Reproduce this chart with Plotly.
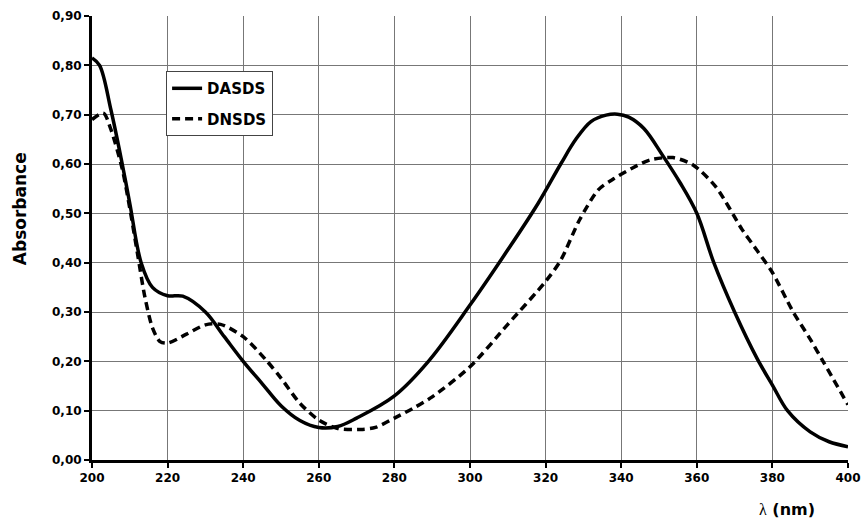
import plotly.graph_objects as go

wl_dasds = [200, 202, 205, 208, 210, 213, 216, 220, 224, 230, 235, 240, 245, 250, 255, 260, 265, 270, 280, 289, 300, 310, 318, 324, 328, 332, 336, 339, 342, 346, 351, 355.5, 360, 364.5, 370, 376, 380, 384, 390, 395, 400]
abs_dasds = [0.815, 0.80, 0.71, 0.60, 0.52, 0.40, 0.35, 0.333, 0.332, 0.30, 0.25, 0.20, 0.155, 0.11, 0.08, 0.066, 0.068, 0.085, 0.13, 0.20, 0.314, 0.426, 0.52, 0.60, 0.65, 0.686, 0.699, 0.701, 0.695, 0.672, 0.617, 0.563, 0.50, 0.40, 0.30, 0.205, 0.152, 0.10, 0.057, 0.037, 0.027]

wl_dnsds = [200, 203, 205, 208, 210, 212, 214, 216, 218, 220, 225, 230, 234, 240, 246, 250, 255, 260, 265, 271, 275, 280, 285, 290, 300, 310, 320, 324, 329, 334, 338, 343, 347.6, 353.7, 359, 365, 372, 376, 380, 385.5, 390, 393.4, 400]
abs_dnsds = [0.69, 0.703, 0.67, 0.59, 0.51, 0.42, 0.33, 0.268, 0.24, 0.237, 0.255, 0.274, 0.275, 0.25, 0.203, 0.166, 0.115, 0.081, 0.064, 0.062, 0.066, 0.085, 0.105, 0.128, 0.189, 0.275, 0.362, 0.405, 0.487, 0.548, 0.57, 0.592, 0.608, 0.613, 0.598, 0.554, 0.467, 0.424, 0.38, 0.30, 0.245, 0.20, 0.112]

x_ticks = list(range(200, 401, 20))
y_ticks = [0.0, 0.1, 0.2, 0.3, 0.4, 0.5, 0.6, 0.7, 0.8, 0.9]

font_main = "DejaVu Sans, Verdana, sans-serif"

fig = go.Figure()
fig.add_trace(go.Scatter(x=wl_dasds, y=abs_dasds, name="DASDS", mode="lines", legendgroup="a",
                         line=dict(color="black", width=3.5, shape="spline", smoothing=1.0)))
fig.add_trace(go.Scatter(x=wl_dnsds, y=abs_dnsds, name="DNSDS", mode="lines", legendgroup="b",
                         line=dict(color="black", width=3.5, dash="8px,5px", shape="spline", smoothing=0.8)))

fig.update_layout(
    width=861, height=522,
    margin=dict(l=92, r=13, t=16, b=62, autoexpand=False),
    paper_bgcolor="white", plot_bgcolor="white",
    separators=", ",
    font=dict(family=font_main, color="black", size=12, weight="bold"),
    showlegend=True,
    legend=dict(x=0.098, y=0.876, xanchor="left", yanchor="top",
                bgcolor="white", bordercolor="#444", borderwidth=1,
                font=dict(size=15, family=font_main, weight="bold"),
                itemwidth=30, traceorder="grouped", tracegroupgap=8),
)
fig.update_xaxes(range=[200, 400], tickvals=x_ticks, ticktext=[str(v) for v in x_ticks],
                 showgrid=True, gridcolor="#777", gridwidth=1, automargin=False,
                 showline=True, linecolor="black", linewidth=3,
                 ticks="outside", ticklen=5, tickwidth=2, tickcolor="black",
                 zeroline=False, tickfont=dict(size=12, weight="bold"))
fig.update_yaxes(range=[0, 0.9], tickvals=y_ticks, tickformat=".2f",
                 showgrid=True, gridcolor="#777", gridwidth=1, automargin=False,
                 showline=True, linecolor="black", linewidth=3,
                 ticks="outside", ticklen=5, tickwidth=2, tickcolor="black",
                 zeroline=False, tickfont=dict(size=12, weight="bold"))

fig.add_annotation(text="Absorbance", xref="paper", yref="paper", x=-0.0952, y=0.565,
                   xanchor="center", yanchor="middle", textangle=-90, showarrow=False,
                   font=dict(size=17, family=font_main, weight="bold"))
fig.add_annotation(text="<span style='font-family:Liberation Serif, Times New Roman, serif;font-weight:normal'>λ</span> (nm)",
                   xref="paper", yref="paper", x=0.959, y=-0.112,
                   xanchor="right", yanchor="middle", showarrow=False,
                   font=dict(size=16, family=font_main, weight="bold"))

fig.write_html("out.html", config={"displayModeBar": False})

# remove the browser's default page margin so the figure sits at (0, 0)
with open("out.html", "r", encoding="utf-8") as f:
    html = f.read()
html = html.replace("<head>", "<head><style>html,body{margin:0;padding:0;overflow:hidden;}</style>", 1)
with open("out.html", "w", encoding="utf-8") as f:
    f.write(html)
